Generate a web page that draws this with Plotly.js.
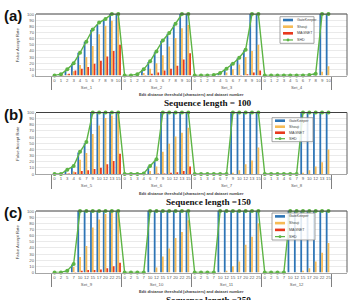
<!DOCTYPE html>
<html><head><meta charset="utf-8">
<script src="https://cdn.plot.ly/plotly-3.0.1.min.js"></script>
<style>html,body{margin:0;padding:0;background:#fff}#chart{width:350px;height:300px}</style>
</head><body><div id="chart"></div>
<script>
// ---------- DATA ----------
const setsA = ['Set_1','Set_2','Set_3','Set_4'];
const setsB = ['Set_5','Set_6','Set_7','Set_8'];
const setsC = ['Set_9','Set_10','Set_11','Set_12'];
const thrA = ['0','1','2','3','4','5','6','7','8','9','10'];
const thrB = ['0','1','3','4','6','7','9','10','12','13','15'];
const thrC = ['0','2','5','7','10','12','15','17','20','22','25'];

// Panel (a): sequence length 100 (Set_1 .. Set_4, 11 thresholds each)
const gateKeeperA = [0,1,8,19,37,55,74,83,91,100,100,  0,0,2,9,22,38,56,68,83,100,100,  0,0,0,1,4,10,19,28,41,100,100,  0,0,0,0,0,0,0,1,3,100,100];
const shoujiA     = [0,0,2,7,17,30,48,67,81,89,94,     0,0,1,4,11,20,33,47,61,77,82,    0,0,0,0,2,5,10,18,30,40,50,     0,0,0,0,0,0,0,0,1,6,15];
const magnetA     = [0,1,3,8,11,14,19,24,31,40,50,     0,0,0,1,3,5,8,11,16,26,36,       0,0,0,0,0,0,1,1,2,5,8,          0,0,0,0,0,0,0,0,0,0,0];
const shdA        = [0,2,10,20,37,55,75,86,92,100,100, 0,0,2,10,23,39,57,69,84,100,100, 0,0,0,1,4,11,19,29,42,100,100, 0,0,0,0,0,0,0,1,3,100,100];

// Panel (b): sequence length 150 (Set_5 .. Set_8)
const gateKeeperB = [0,0,6,12,35,50,100,100,100,100,100, 0,0,0,1,12,22,100,100,100,100,100, 0,0,0,0,0,0,100,100,100,100,100, 0,0,0,0,0,0,100,100,100,100,100];
const shoujiB     = [0,0,1,4,23,34,65,79,91,95,98,       0,0,0,1,5,12,36,49,61,67,75,         0,0,0,0,0,0,2,6,16,22,43,           0,0,0,0,0,0,2,6,12,19,40];
const magnetB     = [0,0,1,3,5,6,8,10,16,21,33,          0,0,0,0,0,1,1,2,3,5,12,              0,0,0,0,0,0,0,0,0,0,0,              0,0,0,0,0,0,0,0,0,0,0];
const shdB        = [0,0,7,13,36,52,100,100,100,100,100, 0,0,0,1,13,24,100,100,100,100,100, 0,0,0,0,0,0,100,100,100,100,100, 0,0,0,0,0,0,100,100,100,100,100];

// Panel (c): sequence length 250 (Set_9 .. Set_12)
const gateKeeperC = [0,0,2,13,100,100,100,100,100,100,100, 0,0,0,0,100,100,100,100,100,100,100, 0,0,0,0,100,100,100,100,100,100,100, 0,0,0,0,100,100,100,100,100,100,100];
const shoujiC     = [0,0,1,9,25,43,73,86,95,98,99,         0,0,0,0,1,8,26,39,56,66,85,            0,0,0,0,1,3,10,18,45,58,80,            0,0,0,0,0,1,3,7,18,32,48];
const magnetC     = [0,0,0,1,3,4,4,5,7,10,16,              0,0,0,0,0,0,0,0,0,0,0,                 0,0,0,0,0,0,0,0,0,0,0,                 0,0,0,0,0,0,0,0,0,0,0];
const shdC        = [0,0,3,14,100,100,100,100,100,100,100, 0,0,0,0,100,100,100,100,100,100,100, 0,0,0,0,100,100,100,100,100,100,100, 0,0,0,0,100,100,100,100,100,100,100];

const seriesNames = ['GateKeeper','Shouji','MAGNET','SHD'];
const panelTitles = ['Sequence length = 100','Sequence length =150','Sequence length =250'];
const panelLetters = ['(a)','(b)','(c)'];
const yTicks = [0,10,20,30,40,50,60,70,80,90,100];

// ---------- STYLE ----------
const W = 350, H = 300;
const px = x => x / W;
const py = y => 1 - y / H;
const colors = {gk:'#2E75B6', sh:'#F6BB55', mg:'#E8391D', shd:'#5DB445'};
const sans = 'Liberation Sans, Arial, sans-serif';

const panels = [
  {sets:setsA, thr:thrA, gk:gateKeeperA, sh:shoujiA, mg:magnetA, shd:shdA, top:14,    bot:75.5,
   leg:{x0:280,x1:314,y0:16.7,y1:43.3}},
  {sets:setsB, thr:thrB, gk:gateKeeperB, sh:shoujiB, mg:magnetB, shd:shdB, top:112.5, bot:174,
   leg:{x0:272,x1:313,y0:117.7,y1:141.7}},
  {sets:setsC, thr:thrC, gk:gateKeeperC, sh:shoujiC, mg:magnetC, shd:shdC, top:211,   bot:272.5,
   leg:{x0:272,x1:315,y0:213,y1:240}}
];

const traces = [];
const layout = {
  width: W, height: H,
  margin: {l:0, r:0, t:0, b:0},
  paper_bgcolor: '#fff', plot_bgcolor: '#fff',
  showlegend: false,
  barmode: 'group', bargap: 0.16, bargroupgap: 0,
  annotations: [], shapes: []
};

const xDom = [36/W, 347/W];

panels.forEach((p, i) => {
  const n = i === 0 ? '' : String(i + 1);
  const xa = 'x' + n, ya = 'y' + n;
  const outer = [], inner = [];
  p.sets.forEach(s => p.thr.forEach(t => { outer.push(s); inner.push(t); }));
  const xs = [outer, inner];
  traces.push({type:'bar', x:xs, y:p.gk, name:seriesNames[0], marker:{color:colors.gk}, xaxis:xa, yaxis:ya});
  traces.push({type:'bar', x:xs, y:p.sh, name:seriesNames[1], marker:{color:colors.sh}, xaxis:xa, yaxis:ya});
  traces.push({type:'bar', x:xs, y:p.mg, name:seriesNames[2], marker:{color:colors.mg}, xaxis:xa, yaxis:ya});
  traces.push({type:'scatter', mode:'lines+markers', x:xs, y:p.shd, name:seriesNames[3],
    line:{color:colors.shd, width:1.4}, marker:{color:colors.shd, size:4}, cliponaxis:false, xaxis:xa, yaxis:ya});

  layout['xaxis' + n] = {
    type:'multicategory', domain:xDom, anchor:ya, tickangle:0,
    tickfont:{size:4.3, color:'#595959', family:sans},
    showdividers:true, dividercolor:'#808080', dividerwidth:1,
    ticks:'', showgrid:false, showline:true, linecolor:'#a6a6a6', linewidth:1, zeroline:false
  };
  layout['yaxis' + n] = {
    domain:[py(p.bot), py(p.top)], anchor:xa, range:[0,100],
    tickvals:yTicks, ticksuffix:'%', tickfont:{size:4.3, color:'#595959', family:sans},
    showgrid:true, gridcolor:'#dcdcdc', gridwidth:0.6, zeroline:false,
    showline:true, linecolor:'#a6a6a6', linewidth:1, ticks:'', ticklen:0
  };
  // top and right frame lines
  layout.shapes.push({type:'line', xref:xa + ' domain', yref:ya + ' domain', x0:0, x1:1, y0:1, y1:1, line:{color:'#404040', width:1}});
  layout.shapes.push({type:'line', xref:xa + ' domain', yref:ya + ' domain', x0:1, x1:1, y0:0, y1:1, line:{color:'#606060', width:1}});

  const off = [0, 98.5, 197][i];
  // panel letter
  layout.annotations.push({text:'<b>' + panelLetters[i] + '</b>', xref:'paper', yref:'paper', x:px(13), y:py(15.5 + off),
    showarrow:false, xanchor:'center', yanchor:'middle', font:{size:15, color:'#111', family:sans}});
  // y title
  layout.annotations.push({text:'False Accept Rate', xref:'paper', yref:'paper', x:px(17.5), y:py((p.top + p.bot) / 2),
    textangle:-90, showarrow:false, xanchor:'center', yanchor:'middle', font:{size:4.2, color:'#404040', family:sans}});
  // x title
  layout.annotations.push({text:'<b>Edit distance threshold (characters) and dataset number</b>', xref:'paper', yref:'paper',
    x:px(191), y:py(94.5 + off), showarrow:false, xanchor:'center', yanchor:'middle', font:{size:3.9, color:'#404040', family:sans}});
  // sequence length title
  layout.annotations.push({text:'<b>' + panelTitles[i] + '</b>', xref:'paper', yref:'paper',
    x:px(208), y:py(103 + off), showarrow:false, xanchor:'center', yanchor:'middle', font:{size:9.2, color:'#111', family:'Liberation Serif, Times New Roman, serif'}});

  // manual legend
  const L = p.leg;
  layout.shapes.push({type:'rect', xref:'paper', yref:'paper', x0:px(L.x0), x1:px(L.x1), y0:py(L.y1), y1:py(L.y0),
    fillcolor:'rgba(255,255,255,0.85)', line:{color:'#8c8c8c', width:0.8}, layer:'above'});
  const rowH = (L.y1 - L.y0) / 4;
  const cols = [colors.gk, colors.sh, colors.mg];
  for (let k = 0; k < 4; k++) {
    const yc = L.y0 + rowH * (k + 0.5);
    const sx0 = L.x0 + 3, sx1 = L.x0 + 13;
    if (k < 3) {
      layout.shapes.push({type:'rect', xref:'paper', yref:'paper', x0:px(sx0), x1:px(sx1), y0:py(yc + 1.3), y1:py(yc - 1.3),
        fillcolor:cols[k], line:{width:0}, layer:'above'});
    } else {
      layout.shapes.push({type:'line', xref:'paper', yref:'paper', x0:px(sx0), x1:px(sx1), y0:py(yc), y1:py(yc),
        line:{color:colors.shd, width:1.2}, layer:'above'});
      layout.shapes.push({type:'circle', xref:'paper', yref:'paper', x0:px((sx0 + sx1) / 2 - 1.4), x1:px((sx0 + sx1) / 2 + 1.4),
        y0:py(yc + 1.4), y1:py(yc - 1.4), fillcolor:colors.shd, line:{width:0}, layer:'above'});
    }
    layout.annotations.push({text:seriesNames[k], xref:'paper', yref:'paper', x:px(sx1 + 2), y:py(yc),
      showarrow:false, xanchor:'left', yanchor:'middle', font:{size:3.6, color:'#404040', family:sans}});
  }
});

Plotly.newPlot('chart', traces, layout, {displayModeBar:false, staticPlot:true});
</script>
</body></html>
